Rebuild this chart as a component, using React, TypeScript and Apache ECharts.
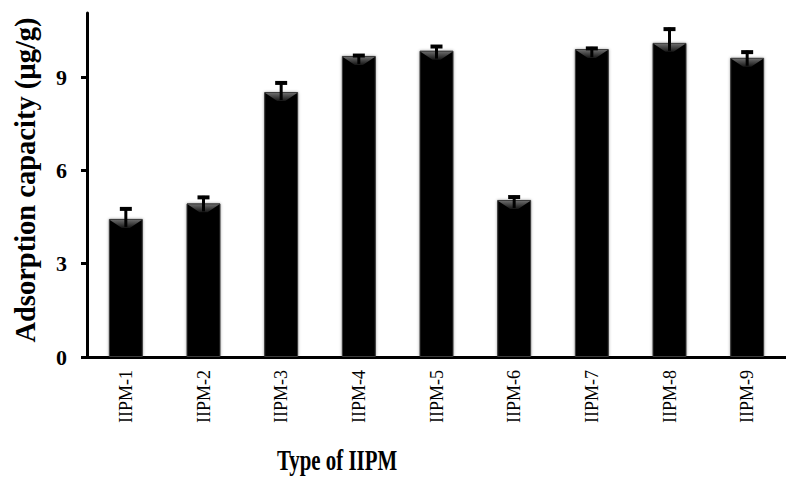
import React, { useEffect, useRef } from "react";
import * as echarts from "echarts";

const categories = ["IIPM-1", "IIPM-2", "IIPM-3", "IIPM-4", "IIPM-5", "IIPM-6", "IIPM-7", "IIPM-8", "IIPM-9"];
const values = [4.44, 4.94, 8.52, 9.68, 9.85, 5.05, 9.9, 10.1, 9.62];
const errors = [0.37, 0.24, 0.34, 0.06, 0.18, 0.14, 0.07, 0.49, 0.23];
const yTicks = [0, 3, 6, 9];

const FONT = "'Liberation Serif', 'Times New Roman', serif";

export default function App() {
  const ref = useRef<HTMLDivElement>(null);
  useEffect(() => {
    if (!ref.current) return;
    const chart = echarts.init(ref.current, null, { renderer: "svg" });
    const custData = values.map((v, i) => [i, v, errors[i]]);
    chart.setOption({
      animation: false,
      backgroundColor: "#ffffff",
      grid: { left: 87, top: 13, bottom: 120, right: -12 },
      xAxis: {
        type: "category",
        data: categories,
        axisLine: { show: true, lineStyle: { color: "#000", width: 3 } },
        axisTick: { show: false },
        axisLabel: {
          rotate: 90,
          margin: 13,
          color: "#000",
          fontFamily: FONT,
          fontSize: 18,
        },
      },
      yAxis: {
        type: "value",
        min: 0,
        max: 11.06,
        interval: 3,
        splitLine: { show: false },
        axisLine: { show: true, lineStyle: { color: "#000", width: 3 } },
        axisTick: { show: true, length: 6, customValues: yTicks, lineStyle: { color: "#000", width: 3 } },
        axisLabel: {
          customValues: yTicks,
          margin: 20,
          color: "#000",
          fontFamily: FONT,
          fontWeight: "bold",
          fontSize: 22,
        },
      },
      graphic: [
        {
          type: "text",
          x: 337,
          y: 460,
          scaleX: 0.72,
          scaleY: 1,
          style: {
            text: "Type of IIPM",
            fontFamily: FONT,
            fontWeight: "bold",
            fontSize: 29,
            lineHeight: 24,
            fill: "#000",
            align: "center",
            verticalAlign: "middle",
          },
        },
        {
          type: "text",
          x: 25,
          y: 180,
          rotation: Math.PI / 2,
          style: {
            text: "Adsorption capacity (µg/g)",
            fontFamily: FONT,
            fontWeight: "bold",
            fontSize: 28.5,
            fill: "#000",
            align: "center",
            verticalAlign: "middle",
          },
        },
      ],
      series: [
        {
          type: "bar",
          data: values,
          barWidth: 34,
          itemStyle: {
            color: "#050505",
            borderColor: "#3a3a3a",
            borderWidth: 1,
            shadowBlur: 3,
            shadowColor: "rgba(0,0,0,0.35)",
          },
          z: 2,
        },
        {
          type: "custom",
          data: custData,
          z: 5,
          renderItem: (params: any, api: any) => {
            const idx = api.value(0);
            const v = api.value(1);
            const e = api.value(2);
            const base = api.coord([idx, v]);
            const top = api.coord([idx, v + e]);
            const half = 16;
            const cx = base[0];
            const by = base[1];
            return {
              type: "group",
              children: [
                {
                  type: "polygon",
                  shape: {
                    points: [
                      [cx - half, by + 1],
                      [cx + half, by + 1],
                      [cx + 4, by + 9],
                      [cx - 4, by + 9],
                    ],
                  },
                  style: {
                    fill: new echarts.graphic.LinearGradient(0, 0, 0, 1, [
                      { offset: 0, color: "#6a6a6a" },
                      { offset: 1, color: "#151515" },
                    ]),
                  },
                },
                {
                  type: "line",
                  shape: { x1: cx, y1: by + 8, x2: cx, y2: top[1] },
                  style: { stroke: "#000", lineWidth: 3 },
                },
                {
                  type: "line",
                  shape: { x1: cx - 6, y1: top[1] + 1.5, x2: cx + 6, y2: top[1] + 1.5 },
                  style: { stroke: "#000", lineWidth: 4 },
                },
              ],
            };
          },
        },
      ],
    });
    return () => chart.dispose();
  }, []);
  return (
    <div
      ref={ref}
      style={{ position: "absolute", left: 0, top: 0, width: 786, height: 477, background: "#fff" }}
    />
  );
}
